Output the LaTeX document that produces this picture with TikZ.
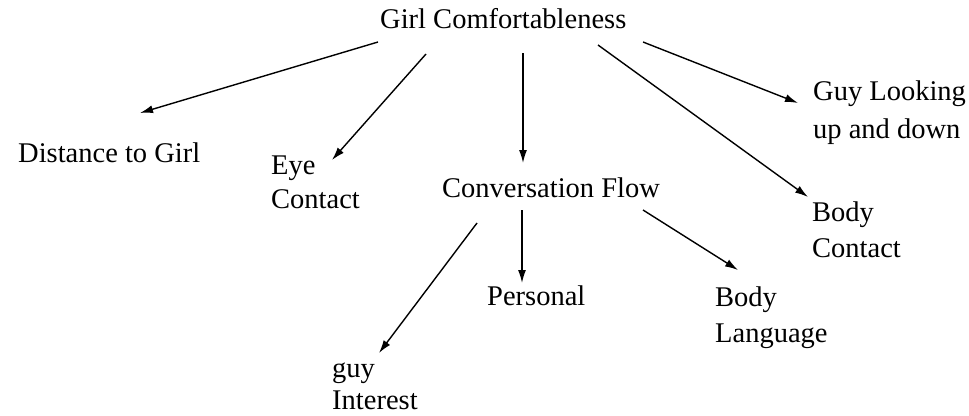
\documentclass[tikz,border=0pt]{standalone}
\usepackage{fontspec}
\setmainfont{Liberation Serif}
\usetikzlibrary{arrows.meta}
\newcommand{\twoline}[3]{\vtop{\baselineskip=#1pt\hbox{#2}\hbox{#3}}}
\begin{document}
\begin{tikzpicture}[x=1pt,y=-1pt,
  lbl/.style={anchor=base west, inner sep=0pt, font=\fontsize{28.5}{35}\selectfont},
  arr/.style={-{Latex[length=13pt,width=8pt]}, line width=1.4pt}]
\useasboundingbox (0,0) rectangle (969,415);
\fill[white] (0,0) rectangle (969,415);
% labels
\node[lbl] (girl) at (380,28) {Girl Comfortableness};
\node[lbl] (dist) at (18,162) {Distance to Girl};
\node[lbl] (eye) at (271,174) {\twoline{34}{Eye}{Contact}};
\node[lbl] (conv) at (442,197) {Conversation Flow};
\node[lbl] (look) at (813,100) {\twoline{38}{Guy Looking}{up and down}};
\node[lbl] (bcont) at (812,221) {\twoline{36}{Body}{Contact}};
\node[lbl] (pers) at (487,305) {Personal};
\node[lbl] (blang) at (715,306) {\twoline{36}{Body}{Language}};
\node[lbl] (gint) at (332,377) {\twoline{32}{guy}{Interest}};
% connector end points
\coordinate (g-d) at (378,42);   \coordinate (dist-t) at (140,113);
\coordinate (g-e) at (426,54);   \coordinate (eye-t) at (332,160);
\coordinate (g-c) at (523,53);   \coordinate (conv-t) at (523,163);
\coordinate (g-b) at (598,45);   \coordinate (bcont-t) at (808,197);
\coordinate (g-l) at (643,42);   \coordinate (look-t) at (798,103);
\coordinate (c-g) at (477,223);  \coordinate (gint-t) at (379,353);
\coordinate (c-p) at (522,210);  \coordinate (pers-t) at (522,283);
\coordinate (c-b) at (643,210);  \coordinate (blang-t) at (738,270);
% connectors
\draw[arr] (g-d) -- (dist-t);
\draw[arr] (g-e) -- (eye-t);
\draw[arr] (g-c) -- (conv-t);
\draw[arr] (g-b) -- (bcont-t);
\draw[arr] (g-l) -- (look-t);
\draw[arr] (c-g) -- (gint-t);
\draw[arr] (c-p) -- (pers-t);
\draw[arr] (c-b) -- (blang-t);
\end{tikzpicture}
\end{document}
